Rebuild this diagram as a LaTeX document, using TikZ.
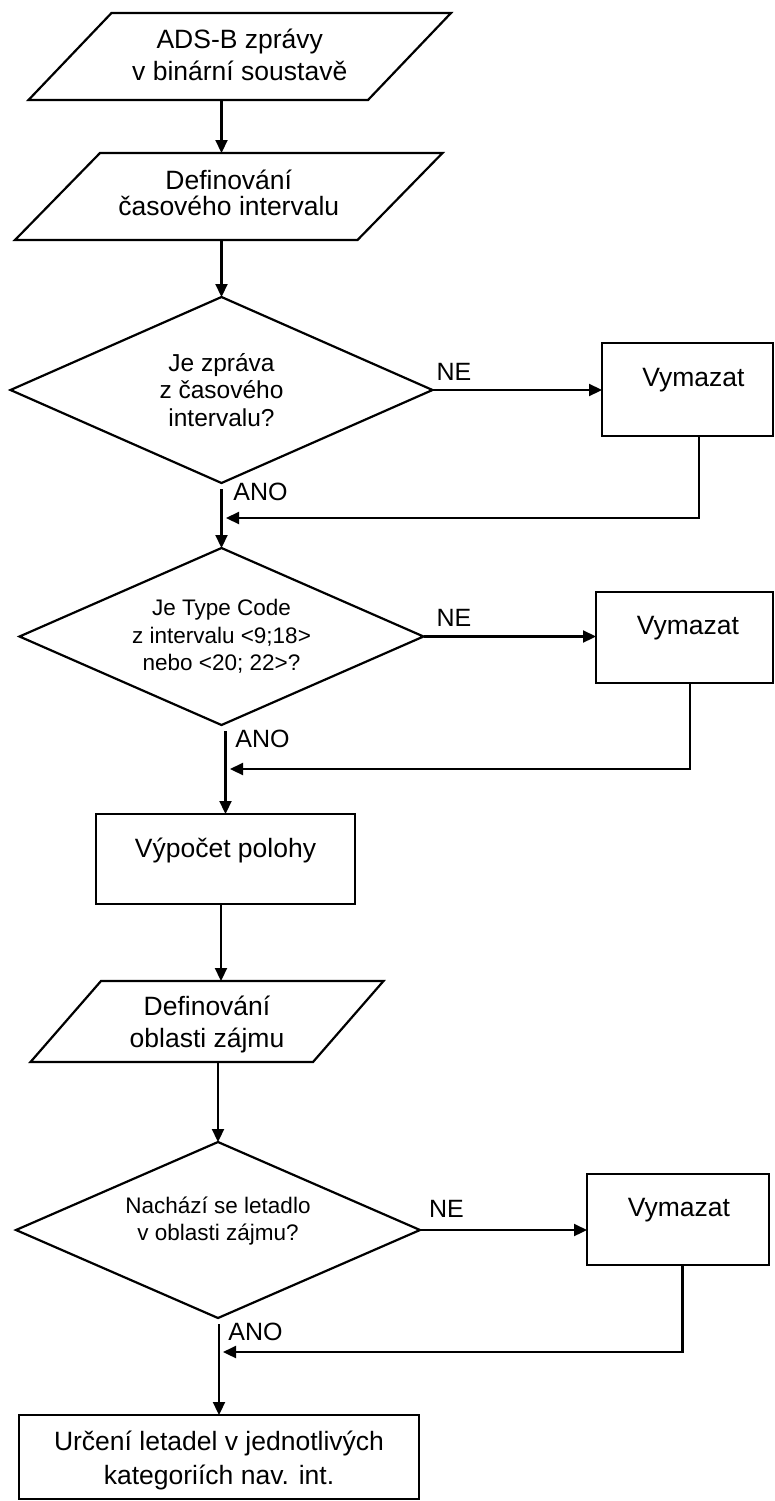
\documentclass[tikz,border=0pt]{standalone}
\usepackage{fontspec}
\setmainfont{Liberation Sans}
\usetikzlibrary{arrows.meta}
\begin{document}
\begin{tikzpicture}[x=1pt,y=-1pt,
  line width=2.2pt,
  every node/.style={inner sep=0pt, outer sep=0pt},
  holder/.style={draw=none, rectangle},
  boxnode/.style={draw, rectangle, line width=2.2pt},
  flow/.style={line width=2.2pt, -{Triangle[length=13pt,width=12pt]}},
  bigtxt/.style={font=\fontsize{26.5}{32}\selectfont, align=center},
  dtxtA/.style={font=\fontsize{24.5}{27.5}\selectfont, align=center},
  dtxtB/.style={font=\fontsize{22.5}{27.5}\selectfont, align=center},
  lab/.style={font=\fontsize{25}{30}\selectfont},
]
\useasboundingbox (0,0) rectangle (774,1501);

% ---------- shapes ----------
\node[holder, minimum width=339.5pt, minimum height=87pt,
  label={[bigtxt, yshift=1.5pt]center:ADS-B zprávy\\v binární soustavě}] (p1) at (239.75,56.5) {};
\draw ([xshift=41.5pt]p1.north west) -- ([xshift=41.5pt]p1.north east) -- ([xshift=-41.5pt]p1.south east) -- ([xshift=-41.5pt]p1.south west) -- cycle;

\node[holder, minimum width=342.5pt, minimum height=87pt,
  label={[font=\fontsize{26.5}{26}\selectfont, align=center, yshift=4pt]center:Definování\\časového intervalu}] (p2) at (228.75,196.5) {};
\draw ([xshift=42.5pt]p2.north west) -- ([xshift=42.5pt]p2.north east) -- ([xshift=-42.5pt]p2.south east) -- ([xshift=-42.5pt]p2.south west) -- cycle;

\node[holder, minimum width=422pt, minimum height=186pt,
  label={[dtxtA]center:Je zpráva\\z časového\\intervalu?}] (d1) at (221.5,390) {};
\draw (d1.north) -- (d1.east) -- (d1.south) -- (d1.west) -- cycle;

\node[boxnode, minimum width=171pt, minimum height=93pt,
  label={[bigtxt, xshift=6pt, yshift=9.5pt]center:Vymazat}] (v1) at (687.5,389.5) {};

\node[holder, minimum width=404pt, minimum height=177pt,
  label={[dtxtB]center:Je Type Code\\z intervalu <9;18>\\nebo <20; 22>?}] (d2) at (221.5,636.5) {};
\draw (d2.north) -- (d2.east) -- (d2.south) -- (d2.west) -- cycle;

\node[boxnode, minimum width=177pt, minimum height=91pt,
  label={[bigtxt, xshift=3.5pt, yshift=9.5pt]center:Vymazat}] (v2) at (684.5,637.5) {};

\node[boxnode, minimum width=259pt, minimum height=90pt,
  label={[bigtxt, yshift=9pt]center:Výpočet polohy}] (b1) at (225.5,859) {};

\node[holder, minimum width=282.5pt, minimum height=81pt,
  label={[bigtxt, yshift=-2.5pt]center:Definování\\oblasti zájmu}] (p3) at (207,1021.5) {};
\draw ([xshift=35.25pt]p3.north west) -- ([xshift=35.25pt]p3.north east) -- ([xshift=-35.25pt]p3.south east) -- ([xshift=-35.25pt]p3.south west) -- cycle;

\node[holder, minimum width=404pt, minimum height=176pt,
  label={[font=\fontsize{22.5}{27}\selectfont, align=center, yshift=8.5pt]center:Nachází se letadlo\\v oblasti zájmu?}] (d3) at (218,1230) {};
\draw (d3.north) -- (d3.east) -- (d3.south) -- (d3.west) -- cycle;

\node[boxnode, minimum width=182pt, minimum height=91pt,
  label={[bigtxt, xshift=1pt, yshift=9.5pt]center:Vymazat}] (v3) at (678,1219.5) {};

\node[boxnode, minimum width=400pt, minimum height=84pt,
  label={[font=\fontsize{26.5}{34}\selectfont, align=center, yshift=-3pt]center:Určení letadel v jednotlivých\\kategoriích nav. int.}] (b2) at (219,1457) {};

% ---------- labels ----------
\node[lab] (ne1) at (454,372) {NE};
\node[lab] (ne2) at (454,617.5) {NE};
\node[lab] (ne3) at (446.5,1208.5) {NE};
\node[lab] (ano1) at (260.5,491.5) {ANO};
\node[lab] (ano2) at (262.5,738.5) {ANO};
\node[lab] (ano3) at (255.5,1331.5) {ANO};

% ---------- junction points ----------
\coordinate (j1) at (226,518);
\coordinate (j2) at (230,769);
\coordinate (j3) at (223,1352);

% ---------- connectors ----------
\draw[flow] (p1.south -| d1.north) -- (p2.north -| d1.north);
\draw[flow] (p2.south -| d1.north) -- (d1.north);
\draw[flow] (d1.east) -- (d1.east -| v1.west);
\draw[flow] ([xshift=11.5pt]v1.south) |- (j1);
\draw[flow] ([yshift=-6pt]d1.south) -- (d2.north);

\draw[flow] (d2.east) -- (d2.east -| v2.west);
\draw[flow] ([xshift=5.5pt]v2.south) |- (j2);
\draw[flow] ([yshift=-6pt]d2.south -| b1.north) -- (b1.north);

\draw[flow] ([xshift=-4.5pt]b1.south) -- ([xshift=-4.5pt]b1.south |- p3.north);
\draw[flow] (d3.north |- p3.south) -- (d3.north);

\draw[flow] (d3.east) -- (d3.east -| v3.west);
\draw[flow] ([xshift=4.5pt]v3.south) |- (j3);
\draw[flow] ([yshift=-6pt]d3.south -| b2.north) -- (b2.north);
\end{tikzpicture}
\end{document}
